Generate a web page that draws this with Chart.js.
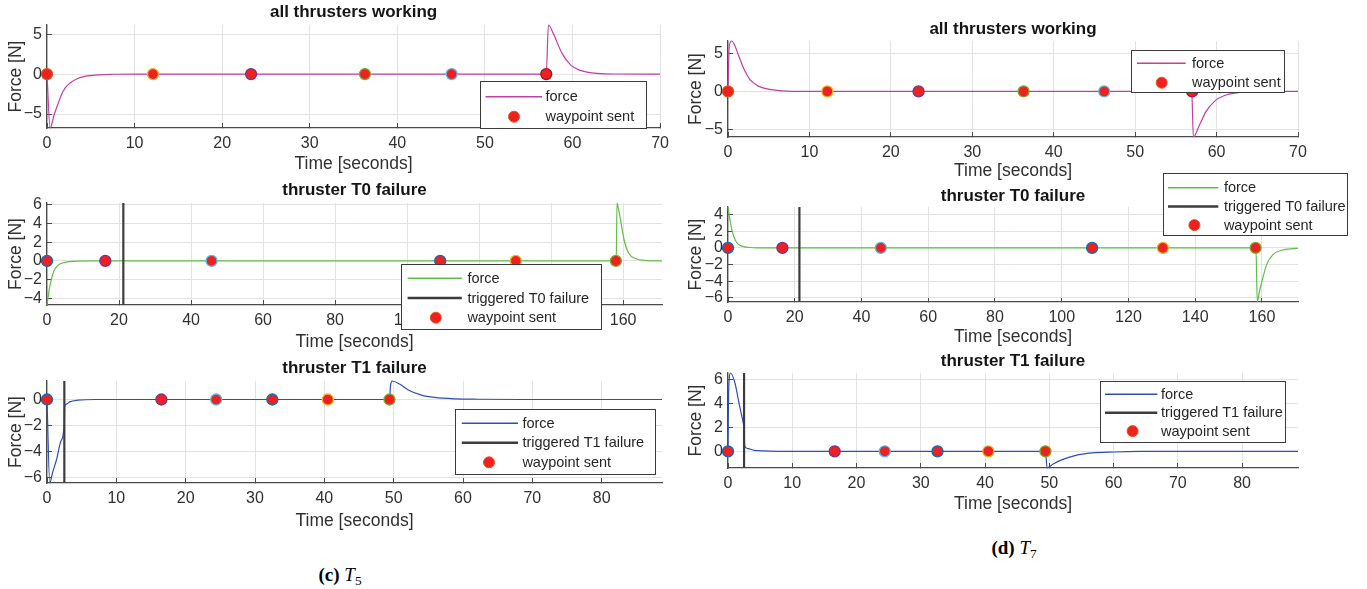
<!DOCTYPE html>
<html>
<head>
<meta charset="utf-8">
<script src="https://cdn.jsdelivr.net/npm/chart.js@4/dist/chart.umd.min.js"></script>
<style>
  html, body { margin: 0; padding: 0; background: #fff; }
  #page { position: relative; width: 1367px; height: 589px; overflow: hidden; background: #fff; }
  #page canvas { position: absolute; }
  .cap { position: absolute; font-family: "Liberation Serif", "DejaVu Serif", serif; font-size: 19px;
         line-height: 22px; color: #000; transform: translateX(-50%); white-space: nowrap; }
  .cap i, .cap b, .cap sub { color: #000; }
  .cap sub { font-size: 70%; line-height: 0; vertical-align: -4px; }
</style>
</head>
<body>
<div id="page">
  <div class="cap" style="left:340px; top:564px;"><b>(c)</b> <i>T</i><sub>5</sub></div>
  <div class="cap" style="left:1014px; top:537px;"><b>(d)</b> <i>T</i><sub>7</sub></div>
</div>
<script>
// ---------- data ----------
// waypoint send times [s]
const wpWorkingT5 = [0, 12.1, 23.3, 36.3, 46.2, 57.0];
const wpWorkingT7 = [0, 12.2, 23.4, 36.3, 46.2, 57.0];
const wpT0FailT5  = [0, 16.2, 45.7, 109.2, 130.2, 158.0];
const wpT0FailT7  = [0, 16.3, 45.8, 109.1, 130.3, 158.1];
const wpT1FailT5  = [0, 16.5, 24.4, 32.5, 40.5, 49.4];
const wpT1FailT7  = [0, 16.6, 24.4, 32.6, 40.5, 49.4];

// failure trigger times [s]
const failT0T5 = 21.2;
const failT0T7 = 21.4;
const failT1T5 = 2.5;
const failT1T7 = 2.5;

// thruster force samples [time s, force N]
const forceWorkingT5 = [[0,0],[0.35,-6.75],[0.84,-5.0],[1.3,-3.6],[1.6,-2.7],[2.1,-1.7],[2.6,-1.15],
  [3.5,-0.55],[5,-0.18],[7.5,-0.02],[10,0],[57.0,0],[57.25,6.15],[57.8,5.1],[58.8,2.6],[59.8,1.13],
  [60.8,0.5],[62.8,0.08],[65,0.01],[70,0]];
const forceWorkingT7 = [[0,0],[0.15,6.0],[0.45,6.7],[0.8,6.2],[1.1,5.36],[1.5,4.2],[1.9,3.1],[2.7,1.56],
  [3.8,0.67],[5.1,0.27],[7.3,0.04],[10,0],[56.95,0],[57.15,-6.05],[57.9,-4.46],[58.7,-2.68],[59.8,-1.25],
  [60.9,-0.58],[62.5,-0.18],[64.1,-0.04],[67,0],[70,0]];
const forceT0FailT5 = [[0,-4.72],[0.4,-3.6],[0.84,-2.6],[1.4,-1.7],[2.0,-1.0],[2.8,-0.55],[3.85,-0.29],
  [5,-0.15],[6.3,-0.07],[9,-0.02],[12,0],[158.1,0],[158.3,6.2],[158.7,5.6],[159.2,4.57],[160.4,2.05],
  [161.6,0.79],[163.4,0.25],[166.4,0.04],[170.8,0]];
const forceT0FailT7 = [[0,4.9],[0.5,3.6],[1.0,2.5],[1.4,1.8],[2.0,1.1],[2.7,0.6],[3.5,0.32],[4.7,0.16],
  [6.5,0.05],[8.6,0],[158.2,0],[158.6,-6.48],[159.2,-5.3],[160,-4.0],[161.4,-2.0],[163.3,-0.8],
  [165.9,-0.28],[169.2,-0.08],[170.8,-0.04]];
const forceT1FailT5 = [[0,0],[0.4,-6.4],[0.8,-5.6],[1.38,-4.6],[2.0,-3.2],[2.5,-1.87],[2.55,-0.5],
  [2.8,-0.35],[3.26,-0.18],[4.5,-0.05],[7,0],[49.4,0],[49.55,1.1],[49.8,1.42],[50.9,1.17],[52.1,0.73],
  [54,0.34],[55.9,0.16],[59,0.05],[62.2,0.02],[68.4,0],[88.7,0]];
const forceT1FailT7 = [[0,0],[0.1,5.0],[0.4,6.56],[1.09,5.7],[1.76,3.9],[2.44,2.2],[2.5,2.0],[2.6,0.45],
  [3.1,0.22],[4.1,0.08],[5.8,0.03],[7.9,0],[49.4,0],[49.65,-1.39],[50.6,-1.06],[52,-0.7],[54,-0.36],
  [56.7,-0.14],[60.1,-0.06],[64.2,-0.01],[70,0],[88.7,0]];

// axis limits [min, max]
const xRangeWorking = [0, 70];
const xRangeT0Fail  = [0, 170.8];
const xRangeT1Fail  = [0, 88.7];
const yRangeWorkingT5 = [-6.75, 6.15];
const yRangeWorkingT7 = [-6.05, 6.7];
const yRangeT0FailT5  = [-4.72, 6.2];
const yRangeT0FailT7  = [-6.48, 4.9];
const yRangeT1FailT5  = [-6.4, 1.42];
const yRangeT1FailT7  = [-1.4, 6.56];

// tick values
const xTicksWorking = [0, 10, 20, 30, 40, 50, 60, 70];
const xTicksT0Fail  = [0, 20, 40, 60, 80, 100, 120, 140, 160];
const xTicksT1Fail  = [0, 10, 20, 30, 40, 50, 60, 70, 80];
const yTicksWorking = [-5, 0, 5];
const yTicksT0FailT5 = [-4, -2, 0, 2, 4, 6];
const yTicksT0FailT7 = [-6, -4, -2, 0, 2, 4];
const yTicksT1FailT5 = [-6, -4, -2, 0];
const yTicksT1FailT7 = [0, 2, 4, 6];

// ---------- styles ----------
const RED = '#EE2020';
const MAGENTA = '#BF3FA6';
const GREEN = '#5FBE46';
const BLUE = '#2F4FAF';
const FAIL = '#3C3C3C';
const TXT = '#303030';
const AXIS = '#4A4A4A';
const GRID = '#E2E2E2';
const FONT = '"Liberation Sans", Arial, sans-serif';
const edgeWorking = ['#D95319', '#EDB120', '#7E2F8E', '#77AC30', '#4DBEEE', '#A2142F'];
const edgeFail    = ['#0072BD', '#7E2F8E', '#4DBEEE', '#0072BD', '#EDB120', '#77AC30'];

Chart.defaults.font.family = FONT;
Chart.defaults.color = TXT;
Chart.defaults.animation = false;

const fmt = v => (v < 0 ? '\u2212' + Math.abs(v) : String(v));

// panel layout: plot area in page pixels, title offset, legend box
const panels = [
  { col: 0, area: { left: 47, top: 25, right: 662, bottom: 128 }, xH: 47, titleDy: -12.5,
    title: 'all thrusters working', xRange: xRangeWorking, yRange: yRangeWorkingT5,
    xTicks: xTicksWorking, yTicks: yTicksWorking, force: forceWorkingT5, color: MAGENTA,
    fail: null, failLabel: null, wp: wpWorkingT5, edge: edgeWorking,
    legend: { box: [480, 81, 166, 47], first: 15.7, gap: 20, line: [5.5, 62], mark: 34, text: 65.5 } },
  { col: 0, area: { left: 47, top: 203, right: 662, bottom: 305 }, xH: 48, titleDy: -13,
    title: 'thruster T0 failure', xRange: xRangeT0Fail, yRange: yRangeT0FailT5,
    xTicks: xTicksT0Fail, yTicks: yTicksT0FailT5, force: forceT0FailT5, color: GREEN,
    fail: failT0T5, failLabel: 'triggered T0 failure', wp: wpT0FailT5, edge: edgeFail,
    legend: { box: [401, 264, 200, 65], first: 14.3, gap: 19.7, line: [6.6, 60.8], mark: 34.8, text: 66.4 } },
  { col: 0, area: { left: 47, top: 381, right: 662, bottom: 483 }, xH: 49, titleDy: -13,
    title: 'thruster T1 failure', xRange: xRangeT1Fail, yRange: yRangeT1FailT5,
    xTicks: xTicksT1Fail, yTicks: yTicksT1FailT5, force: forceT1FailT5, color: BLUE,
    fail: failT1T5, failLabel: 'triggered T1 failure', wp: wpT1FailT5, edge: edgeFail,
    legend: { box: [455, 409, 200, 65], first: 14.3, gap: 19.5, line: [6.8, 63], mark: 34, text: 67.4 } },
  { col: 1, area: { left: 728, top: 41, right: 1298, bottom: 137 }, xH: 45, titleDy: -11.5,
    title: 'all thrusters working', xRange: xRangeWorking, yRange: yRangeWorkingT7,
    xTicks: xTicksWorking, yTicks: yTicksWorking, force: forceWorkingT7, color: MAGENTA,
    fail: null, failLabel: null, wp: wpWorkingT7, edge: edgeWorking,
    legend: { box: [1131, 50, 153, 42], first: 13.3, gap: 19.4, line: [5.9, 54.7], mark: 30.7, text: 61 } },
  { col: 1, area: { left: 728, top: 207, right: 1298, bottom: 302 }, xH: 46, titleDy: -11,
    title: 'thruster T0 failure', xRange: xRangeT0Fail, yRange: yRangeT0FailT7,
    xTicks: xTicksT0Fail, yTicks: yTicksT0FailT7, force: forceT0FailT7, color: GREEN,
    fail: failT0T7, failLabel: 'triggered T0 failure', wp: wpT0FailT7, edge: edgeFail,
    legend: { box: [1163, 173, 184, 62], first: 14.7, gap: 18.7, line: [5, 55.3], mark: 31.4, text: 60.9 } },
  { col: 1, area: { left: 728, top: 373, right: 1298, bottom: 468 }, xH: 47, titleDy: -11.5,
    title: 'thruster T1 failure', xRange: xRangeT1Fail, yRange: yRangeT1FailT7,
    xTicks: xTicksT1Fail, yTicks: yTicksT1FailT7, force: forceT1FailT7, color: BLUE,
    fail: failT1T7, failLabel: 'triggered T1 failure', wp: wpT1FailT7, edge: edgeFail,
    legend: { box: [1100, 381, 185, 61], first: 13.3, gap: 18.4, line: [5, 57.3], mark: 32.6, text: 61 } }
];

const PAD_TOP = 36;
const PAD_LEFT = 6;

function makePanel(p) {
  const colX0 = p.col === 0 ? 0 : 680;
  const colW = p.col === 0 ? 680 : 687;
  const ox = colX0;
  const oy = p.area.top - PAD_TOP;
  const h = PAD_TOP + (p.area.bottom - p.area.top) + p.xH;

  const cv = document.createElement('canvas');
  cv.width = colW; cv.height = h;
  cv.style.left = ox + 'px'; cv.style.top = oy + 'px';
  cv.style.width = colW + 'px'; cv.style.height = h + 'px';
  document.getElementById('page').appendChild(cv);

  const rows = [{ kind: 'line', label: 'force', color: p.color, width: 1.5 }];
  if (p.fail !== null) rows.push({ kind: 'line', label: p.failLabel, color: FAIL, width: 2.5 });
  rows.push({ kind: 'marker', label: 'waypoint sent' });

  const datasets = [{
    label: 'force',
    data: p.force.map(([t, f]) => ({ x: t, y: f })),
    borderColor: p.color, borderWidth: 1.2, pointRadius: 0,
    cubicInterpolationMode: 'monotone', fill: false, order: 3, clip: 1
  }];
  if (p.fail !== null) {
    datasets.push({
      label: p.failLabel,
      data: [{ x: p.fail, y: p.yRange[0] }, { x: p.fail, y: p.yRange[1] }],
      borderColor: FAIL, borderWidth: 2.2, pointRadius: 0, tension: 0, fill: false, order: 2
    });
  }
  datasets.push({
    label: 'waypoint sent',
    data: p.wp.map(t => ({ x: t, y: 0 })),
    showLine: false, pointRadius: 5.5, pointHoverRadius: 5.5,
    pointBackgroundColor: RED, pointBorderColor: p.edge, pointBorderWidth: 1.3,
    order: 1, clip: false
  });

  const panelDecor = {
    id: 'panelDecor',
    afterDraw(chart) {
      const { ctx, chartArea } = chart;
      ctx.save();
      // title
      ctx.font = 'bold 17px ' + FONT;
      ctx.fillStyle = '#151515';
      ctx.textAlign = 'center';
      ctx.textBaseline = 'middle';
      ctx.fillText(p.title, (chartArea.left + chartArea.right) / 2, chartArea.top + p.titleDy);
      // legend
      const lg = p.legend;
      const bx = Math.round(lg.box[0] - ox), by = Math.round(lg.box[1] - oy);
      ctx.fillStyle = '#fff';
      ctx.fillRect(bx, by, lg.box[2], lg.box[3]);
      ctx.strokeStyle = '#3A3A3A';
      ctx.lineWidth = 1;
      ctx.strokeRect(bx + 0.5, by + 0.5, lg.box[2], lg.box[3]);
      ctx.font = '14.5px ' + FONT;
      ctx.textAlign = 'left';
      rows.forEach((r, i) => {
        const y = by + lg.first + i * lg.gap;
        if (r.kind === 'line') {
          ctx.strokeStyle = r.color;
          ctx.lineWidth = r.width;
          ctx.beginPath();
          ctx.moveTo(bx + lg.line[0], y);
          ctx.lineTo(bx + lg.line[1], y);
          ctx.stroke();
        } else {
          ctx.fillStyle = RED;
          ctx.strokeStyle = '#E8541C';
          ctx.lineWidth = 1;
          ctx.beginPath();
          ctx.arc(bx + lg.mark, y, 5.5, 0, Math.PI * 2);
          ctx.fill();
          ctx.stroke();
        }
        ctx.fillStyle = '#262626';
        ctx.fillText(r.label, bx + lg.text, y + 0.5);
      });
      ctx.restore();
    }
  };

  new Chart(cv, {
    type: 'line',
    data: { datasets },
    plugins: [panelDecor],
    options: {
      responsive: false,
      animation: false,
      devicePixelRatio: 1,
      events: [],
      layout: {
        autoPadding: false,
        padding: { top: PAD_TOP, left: PAD_LEFT, right: colX0 + colW - p.area.right, bottom: 0 }
      },
      plugins: { legend: { display: false }, title: { display: false }, tooltip: { enabled: false } },
      scales: {
        x: {
          type: 'linear', min: p.xRange[0], max: p.xRange[1],
          afterBuildTicks: s => { s.ticks = p.xTicks.map(v => ({ value: v })); },
          afterFit: s => { s.height = p.xH; },
          ticks: { font: { size: 16 }, color: TXT, padding: 11, maxRotation: 0, autoSkip: false,
                   callback: v => fmt(v) },
          grid: { color: GRID, lineWidth: 1, tickLength: -5, tickColor: AXIS, tickWidth: 1 },
          border: { display: true, color: AXIS, width: 1.3 },
          title: { display: true, text: 'Time [seconds]', font: { size: 17.5 }, color: TXT, padding: 0 }
        },
        y: {
          type: 'linear', min: p.yRange[0], max: p.yRange[1],
          afterBuildTicks: s => { s.ticks = p.yTicks.map(v => ({ value: v })); },
          afterFit: s => { s.width = p.area.left - colX0 - PAD_LEFT; },
          ticks: { font: { size: 16 }, color: TXT, padding: 10, autoSkip: false, callback: v => fmt(v) },
          grid: { color: GRID, lineWidth: 1, tickLength: -5, tickColor: AXIS, tickWidth: 1 },
          border: { display: true, color: AXIS, width: 1.3 },
          title: { display: true, text: 'Force [N]', font: { size: 17.5 }, color: TXT, padding: 0 }
        }
      }
    }
  });
}

panels.forEach(makePanel);
</script>
</body>
</html>
